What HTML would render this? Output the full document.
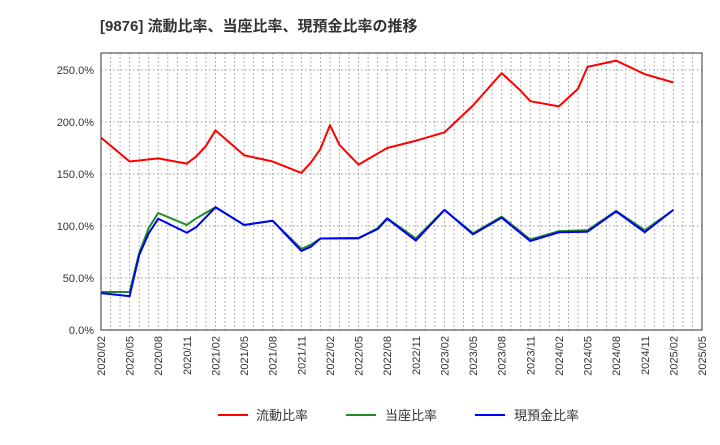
<!DOCTYPE html>
<html><head><meta charset="utf-8"><style>
body{margin:0;background:#fff;font-family:"Liberation Sans","Noto Sans CJK JP",sans-serif;}
</style></head><body>
<svg id="chart" width="720" height="440" xmlns="http://www.w3.org/2000/svg" style="font-family:'Liberation Sans','Noto Sans CJK JP',sans-serif">
<text x="100" y="31" font-size="15" font-weight="bold" fill="#333">[9876]  流動比率、当座比率、現預金比率の推移</text>
<g id="grid"></g><g id="axes"></g><g id="series"></g>
<g>
<line x1="218" y1="415" x2="248" y2="415" stroke="#f00" stroke-width="2"/>
<text x="256" y="420" font-size="13" fill="#333">流動比率</text>
<line x1="346" y1="415" x2="376" y2="415" stroke="#228b22" stroke-width="2"/>
<text x="385" y="420" font-size="13" fill="#333">当座比率</text>
<line x1="475" y1="415" x2="505" y2="415" stroke="#00f" stroke-width="2"/>
<text x="514" y="420" font-size="13" fill="#333">現預金比率</text>
</g>
</svg>
<script>
const xTickLabels=["2020/02","2020/05","2020/08","2020/11","2021/02","2021/05","2021/08","2021/11","2022/02","2022/05","2022/08","2022/11","2023/02","2023/05","2023/08","2023/11","2024/02","2024/05","2024/08","2024/11","2025/02","2025/05"];
const yTicks=[0,50,100,150,200,250];
const redMonths=[0,3,6,9,10,11,12,15,18,21,22,23,24,25,27,30,33,36,39,42,44,45,48,50,51,54,57,60];
const currentRatio=[185,162,165,160,167,177,192,168,162,151,161,174,197,178,159,175,182,190,216,247,230,220,215,232,253,259,246,238];
const subMonths=[0,3,4,5,6,9,10,12,15,18,21,22,23,27,29,30,33,36,39,42,45,48,51,54,57,60];
const quickRatio=[36.5,36.5,74,98,112.5,101,107.5,118,101,105,78,82,88,88,98,107.5,88,115.5,93,109,87,95,96,114.5,96,115.5];
const cashRatio=[35.5,32.5,72,93,107,93.5,99,118,101,105,76,80,88,88.5,97,107,86,115.5,92,108,85.5,94,94.5,114,94,115.5];
const L=101,R=702,T=53,B=330,maxM=63,maxY=266.35;
const xs=m=>L+(R-L)*m/maxM, ys=v=>B-(B-T)*v/maxY;
const NS="http://www.w3.org/2000/svg";
function mk(tag,attrs,parent){const e=document.createElementNS(NS,tag);for(const k in attrs)e.setAttribute(k,attrs[k]);document.getElementById(parent).appendChild(e);return e;}
for(let m=1;m<maxM;m++){const l=mk('line',{x1:xs(m),x2:xs(m),y1:T,y2:B,stroke:'#999','stroke-dasharray':'1.5,2.5','stroke-width':1},'grid');

}
yTicks.forEach(v=>{const l=mk('line',{x1:L,x2:R,y1:ys(v),y2:ys(v),stroke:'#999','stroke-dasharray':'1.5,2.5','stroke-width':1},'grid');


const t=mk('text',{x:94,y:ys(v)+4,'font-size':11,'text-anchor':'end',fill:'#333'},'axes');
t.textContent=v.toFixed(1)+'%';

});
const frame=mk('rect',{x:L,y:T,width:R-L,height:B-T,fill:'none',stroke:'#333','stroke-width':1},'axes');


xTickLabels.forEach((s,i)=>{const x=xs(i*3);const t=mk('text',{x:0,y:0,'font-size':11,'text-anchor':'end',fill:'#333',transform:`translate(${x+4},336) rotate(-90)`},'axes');
t.textContent=s;

});
function line(months,vals,color,name){const p=mk('polyline',{points:months.map((m,i)=>xs(m)+','+ys(vals[i])).join(' '),fill:'none',stroke:color,'stroke-width':2,'stroke-linejoin':'round'},'series');

}
line(redMonths,currentRatio,'#f00','current-ratio-line');
line(subMonths,quickRatio,'#228b22','quick-ratio-line');
line(subMonths,cashRatio,'#00f','cash-ratio-line');
</script>
</body></html>
